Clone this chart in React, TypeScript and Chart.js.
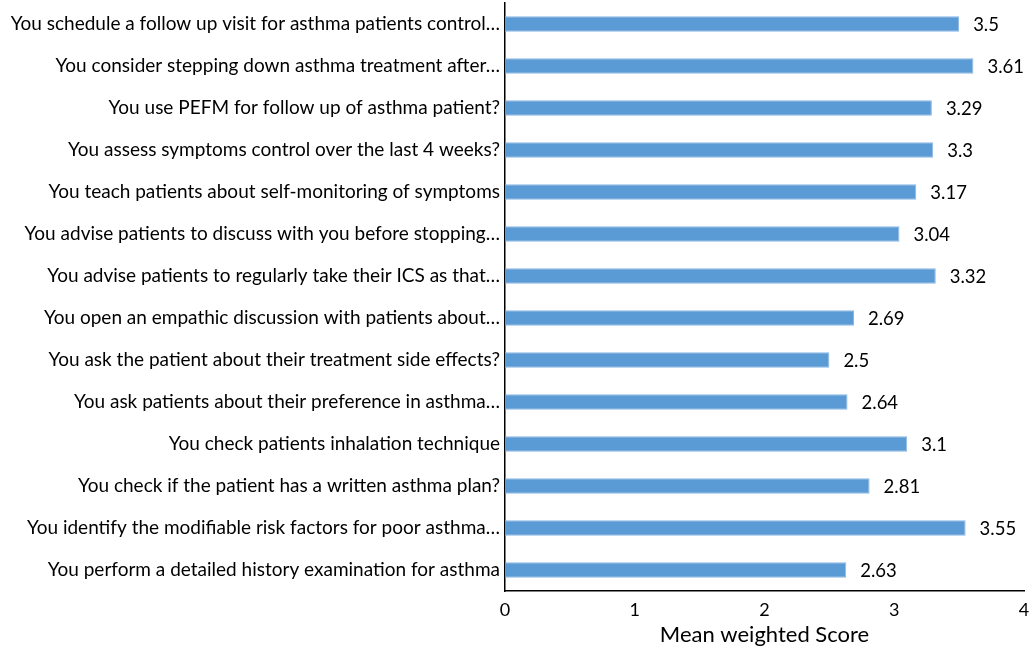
import React, { useEffect, useRef } from "react";
import { Chart, registerables } from "chart.js";

Chart.register(...registerables);

const categories: string[] = [
  "You schedule a follow up visit for asthma patients control…",
  "You consider stepping down asthma treatment after…",
  "You use PEFM for follow up of asthma patient?",
  "You assess symptoms control over the last 4 weeks?",
  "You teach patients about self-monitoring of symptoms",
  "You advise patients to discuss with you before stopping…",
  "You advise patients to regularly take their ICS as that…",
  "You open an empathic discussion with patients about…",
  "You ask the patient about their treatment side effects?",
  "You ask patients about their preference in asthma…",
  "You check patients inhalation technique",
  "You check if the patient has a written asthma plan?",
  "You identify the modifiable risk factors for poor asthma…",
  "You perform a detailed history examination for asthma",
];

const scores: number[] = [3.5, 3.61, 3.29, 3.3, 3.17, 3.04, 3.32, 2.69, 2.5, 2.64, 3.1, 2.81, 3.55, 2.63];

const xTicks: number[] = [0, 1, 2, 3, 4];

const FONT = "Lato, 'Open Sans', sans-serif";

const valueLabels = {
  id: "valueLabels",
  afterDatasetsDraw(chart: any) {
    const ctx = chart.ctx;
    const meta = chart.getDatasetMeta(0);
    ctx.save();
    ctx.font = `18.5px ${FONT}`;
    ctx.fillStyle = "#000";
    ctx.textAlign = "left";
    ctx.textBaseline = "middle";
    meta.data.forEach((bar: any, i: number) => {
      ctx.fillText(String(scores[i]), bar.x + 14, bar.y + 1);
    });
    ctx.restore();
  },
};

export default function App() {
  const ref = useRef<HTMLCanvasElement>(null);
  useEffect(() => {
    document.body.style.margin = "0";
    const chart = new Chart(ref.current!, {
      type: "bar",
      data: {
        labels: categories,
        datasets: [
          {
            data: scores,
            backgroundColor: "#5B9BD5",
            borderColor: "#8DB9E5",
            borderWidth: 1,
            barPercentage: 0.37,
            categoryPercentage: 1,
          },
        ],
      },
      options: {
        indexAxis: "y",
        animation: false,
        responsive: false,
        layout: { padding: { top: 3, right: 9, bottom: 0, left: 0 } },
        plugins: { legend: { display: false }, tooltip: { enabled: false } },
        scales: {
          x: {
            min: 0,
            max: 4,
            afterBuildTicks: (axis: any) => {
              axis.ticks = xTicks.map((v) => ({ value: v }));
            },
            afterFit: (axis: any) => {
              axis.height = 57;
              axis.paddingRight = 0;
              axis.paddingLeft = 0;
            },
            grid: { display: false, drawTicks: false },
            border: { display: true, color: "#000", width: 1.5 },
            ticks: { color: "#000", font: { family: FONT, size: 18 }, padding: 8 },
            title: {
              display: true,
              text: "Mean weighted Score",
              color: "#000",
              font: { family: FONT, size: 22 },
              padding: { top: 0, bottom: 0 },
            },
          },
          y: {
            afterFit: (axis: any) => {
              axis.width = 505;
              axis.paddingTop = 0;
              axis.paddingBottom = 0;
            },
            grid: { display: false, drawTicks: false },
            border: { display: true, color: "#000", width: 1.5 },
            ticks: { color: "#000", font: { family: FONT, size: 19 }, padding: 5, autoSkip: false },
          },
        },
      },
      plugins: [valueLabels],
    });
    return () => chart.destroy();
  }, []);
  return (
    <div style={{ width: 1033, height: 648 }}>
      <canvas ref={ref} width={1033} height={648} />
    </div>
  );
}
